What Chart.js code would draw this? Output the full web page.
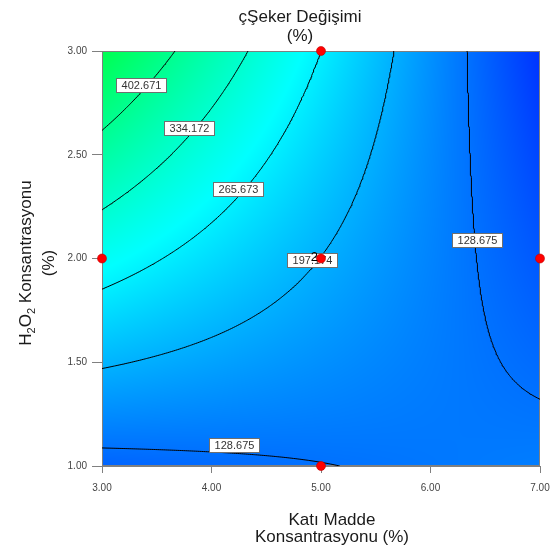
<!DOCTYPE html>
<html>
<head>
<meta charset="utf-8">
<script src="https://cdn.jsdelivr.net/npm/chart.js@4.4.1/dist/chart.umd.min.js"></script>
<style>
  html, body { margin: 0; padding: 0; background: #ffffff; }
  canvas { display: block; }
</style>
</head>
<body>
<canvas id="chart" width="553" height="551"></canvas>
<script>
// ---- Factor ranges and ticks (actual units) ----
const xRange = [3, 7];                 // Katı Madde Konsantrasyonu (%)
const yRange = [1, 3];                 // H2O2 Konsantrasyonu (%)
const xTicks = [3, 4, 5, 6, 7];
const yTicks = [1, 1.5, 2, 2.5, 3];

// ---- Design points (runs) and replicate counts ----
const designX = [3, 5, 5, 5, 7];
const designY = [2, 3, 2, 1, 2];
const designReps = [1, 1, 2, 1, 1];

// ---- Response equation in coded factors: Intercept, A, B, AB ----
const coefNames = ['Intercept', 'A', 'B', 'AB'];
const coefValues = [196.56, -95.58, 69.11, -109.93];

// ---- Contour levels of çŞeker Değişimi (%) ----
const contourLevels = [128.675, 197.174, 265.673, 334.172, 402.671];

// ---- Texts ----
const chartTitle = ['çŞeker Değişimi', '(%)'];
const xTitle = ['Katı Madde', 'Konsantrasyonu (%)'];
const yTitleParts = [['H', 0], ['2', 1], ['O', 0], ['2', 1], [' Konsantrasyonu', 0]];  // [text, subscript?]
const yTitleLine2 = '(%)';

// ---- Layout / style settings ----
const FONT = "'Liberation Sans', Arial, Helvetica, sans-serif";
const colorScaleLow = 6.2;             // value mapped to pure blue
const colorScaleHigh = 1108.7;         // value mapped to pure red
const labelAnchors = [                  // centre of each contour label box
  { level: 402.671, x: 3.359, y: 2.835 },
  { level: 334.172, x: 3.799, y: 2.629 },
  { level: 265.673, x: 4.242, y: 2.335 },
  { level: 197.174, x: 4.915, y: 1.993 },
  { level: 128.675, x: 6.422, y: 2.089 },
  { level: 128.675, x: 4.205, y: 1.103 }
];

// Predicted response at actual factor settings
function predict(x, y) {
  const A = (x - (xRange[0] + xRange[1]) / 2) / ((xRange[1] - xRange[0]) / 2);
  const B = (y - (yRange[0] + yRange[1]) / 2) / ((yRange[1] - yRange[0]) / 2);
  const terms = { 'Intercept': 1, 'A': A, 'B': B, 'AB': A * B };
  let v = 0;
  coefNames.forEach((n, i) => { v += coefValues[i] * terms[n]; });
  return v;
}

// Blue -> cyan -> green -> yellow -> red gradient
function colorFor(v) {
  let t = (v - colorScaleLow) / (colorScaleHigh - colorScaleLow);
  t = Math.max(0, Math.min(1, t));
  let r, g, b;
  if (t < 0.25) { r = 0; g = 255 * t / 0.25; b = 255; }
  else if (t < 0.5) { r = 0; g = 255; b = 255 * (1 - (t - 0.25) / 0.25); }
  else if (t < 0.75) { r = 255 * (t - 0.5) / 0.25; g = 255; b = 0; }
  else { r = 255; g = 255 * (1 - (t - 0.75) / 0.25); b = 0; }
  return [r, g, b];
}

// Marching squares over the factor space; returns polylines in data units
function traceContour(level) {
  const N = 220;
  const gx = i => xRange[0] + (xRange[1] - xRange[0]) * i / N;
  const gy = j => yRange[0] + (yRange[1] - yRange[0]) * j / N;
  const V = [];
  for (let j = 0; j <= N; j++) for (let i = 0; i <= N; i++) V[j * (N + 1) + i] = predict(gx(i), gy(j));
  const v = (i, j) => V[j * (N + 1) + i];
  const pointOf = key => {
    const t = key[0];
    const [i, j] = key.slice(1).split(',').map(Number);
    if (t === 'h') {
      const a = v(i, j), b = v(i + 1, j);
      return { x: gx(i + (level - a) / (b - a)), y: gy(j) };
    }
    const a = v(i, j), b = v(i, j + 1);
    return { x: gx(i), y: gy(j + (level - a) / (b - a)) };
  };
  const segs = [];
  for (let j = 0; j < N; j++) {
    for (let i = 0; i < N; i++) {
      const c = [v(i, j), v(i + 1, j), v(i + 1, j + 1), v(i, j + 1)];
      const above = c.map(q => q >= level);
      const edges = [
        ['h' + i + ',' + j, 0, 1],
        ['v' + (i + 1) + ',' + j, 1, 2],
        ['h' + i + ',' + (j + 1), 3, 2],
        ['v' + i + ',' + j, 0, 3]
      ];
      const hit = edges.filter(e => above[e[1]] !== above[e[2]]).map(e => e[0]);
      if (hit.length === 2) segs.push([hit[0], hit[1]]);
      else if (hit.length === 4) {
        const centre = (c[0] + c[1] + c[2] + c[3]) / 4;
        if ((centre >= level) === above[0]) { segs.push([hit[0], hit[1]]); segs.push([hit[2], hit[3]]); }
        else { segs.push([hit[0], hit[3]]); segs.push([hit[1], hit[2]]); }
      }
    }
  }
  const adj = new Map();
  segs.forEach((s, k) => s.forEach(e => { if (!adj.has(e)) adj.set(e, []); adj.get(e).push(k); }));
  const used = new Array(segs.length).fill(false);
  const lines = [];
  const walk = startKey => {
    const keys = [startKey];
    let cur = startKey;
    while (true) {
      const next = (adj.get(cur) || []).find(k => !used[k]);
      if (next === undefined) break;
      used[next] = true;
      const s = segs[next];
      cur = s[0] === cur ? s[1] : s[0];
      keys.push(cur);
    }
    return keys;
  };
  for (const [key, list] of adj) {
    if (list.length === 1 && !used[list[0]]) lines.push(walk(key).map(pointOf));
  }
  segs.forEach((s, k) => { if (!used[k]) lines.push(walk(s[0]).map(pointOf)); });
  return lines;
}

// ---- Datasets ----
const contourLines = [];
contourLevels.forEach(level => traceContour(level).forEach(pts => contourLines.push({ level, pts })));

const datasets = contourLines.map(c => ({
  label: 'contour ' + c.level,
  data: c.pts,
  showLine: true,
  borderColor: '#000000',
  borderWidth: 1,
  pointRadius: 0,
  tension: 0,
  fill: false,
  order: 2
}));
const designIndex = datasets.length;
datasets.push({
  label: 'Design Points',
  data: designX.map((x, i) => ({ x, y: designY[i] })),
  showLine: false,
  pointRadius: 4.5,
  pointBackgroundColor: '#ff0000',
  pointBorderColor: '#c00000',
  pointBorderWidth: 0.6,
  clip: false,
  order: 0
});

// ---- Plugins ----
const surfacePlugin = {
  id: 'surface',
  beforeDatasetsDraw(chart) {
    const { ctx, chartArea: a, scales } = chart;
    const w = Math.round(a.right - a.left), h = Math.round(a.bottom - a.top);
    const off = document.createElement('canvas');
    off.width = w; off.height = h;
    const octx = off.getContext('2d');
    const img = octx.createImageData(w, h);
    for (let py = 0; py < h; py++) {
      const yv = scales.y.getValueForPixel(a.top + py + 0.5);
      for (let px = 0; px < w; px++) {
        const xv = scales.x.getValueForPixel(a.left + px + 0.5);
        const [r, g, b] = colorFor(predict(xv, yv));
        const k = (py * w + px) * 4;
        img.data[k] = r; img.data[k + 1] = g; img.data[k + 2] = b; img.data[k + 3] = 255;
      }
    }
    octx.putImageData(img, 0, 0);
    ctx.save();
    ctx.drawImage(off, a.left, a.top);
    ctx.strokeStyle = '#7f7f7f';
    ctx.lineWidth = 1;
    ctx.strokeRect(a.left + 0.5, a.top + 0.5, w - 1, h - 1);
    ctx.restore();
  },
  beforeDatasetDraw(chart, args) {
    if (args.index !== designIndex) return;
    const { ctx, scales } = chart;
    ctx.save();
    ctx.font = '11px ' + FONT;
    ctx.textAlign = 'center';
    ctx.textBaseline = 'middle';
    labelAnchors.forEach(lab => {
      const cx = scales.x.getPixelForValue(lab.x), cy = scales.y.getPixelForValue(lab.y);
      const text = lab.level.toFixed(3);
      const tw = ctx.measureText(text).width;
      const bw = Math.round(tw + 10), bh = 14;
      const bx = Math.round(cx - bw / 2) + 0.5, by = Math.round(cy - bh / 2) + 0.5;
      ctx.fillStyle = '#ffffff';
      ctx.fillRect(bx, by, bw, bh);
      ctx.strokeStyle = '#6f6f6f';
      ctx.lineWidth = 1;
      ctx.strokeRect(bx, by, bw, bh);
      ctx.fillStyle = '#333333';
      ctx.fillText(text, bx + bw / 2, by + bh / 2 + 0.5);
    });
    ctx.restore();
  },
  afterDatasetDraw(chart, args) {
    if (args.index !== designIndex) return;
    const { ctx } = chart;
    const meta = chart.getDatasetMeta(designIndex);
    ctx.save();
    ctx.font = '13px ' + FONT;
    ctx.fillStyle = '#000000';
    ctx.textAlign = 'right';
    ctx.textBaseline = 'middle';
    meta.data.forEach((el, i) => {
      if (designReps[i] > 1) ctx.fillText(String(designReps[i]), el.x - 3, el.y - 1.5);
    });
    ctx.restore();
  },
  afterDraw(chart) {
    const { ctx } = chart;
    ctx.save();
    ctx.fillStyle = '#1a1a1a';
    ctx.textAlign = 'center';
    ctx.textBaseline = 'alphabetic';
    ctx.font = '17px ' + FONT;
    // chart title
    ctx.fillText(chartTitle[0], 300, 22);
    ctx.fillText(chartTitle[1], 300, 41);
    // x axis title
    ctx.fillText(xTitle[0], 332, 525);
    ctx.fillText(xTitle[1], 332, 542);
    // y axis title (rotated, with subscripts)
    ctx.translate(31, 263);
    ctx.rotate(-Math.PI / 2);
    const big = '17px ' + FONT, small = '11px ' + FONT;
    let total = 0;
    yTitleParts.forEach(([t, sub]) => { ctx.font = sub ? small : big; total += ctx.measureText(t).width; });
    let x = -total / 2;
    ctx.textAlign = 'left';
    yTitleParts.forEach(([t, sub]) => {
      ctx.font = sub ? small : big;
      ctx.fillText(t, x, sub ? 4 : 0);
      x += ctx.measureText(t).width;
    });
    ctx.font = big;
    ctx.textAlign = 'center';
    ctx.fillText(yTitleLine2, 0, 23);
    ctx.restore();
  }
};

Chart.defaults.font.family = FONT;

new Chart(document.getElementById('chart'), {
  type: 'scatter',
  data: { datasets },
  options: {
    responsive: false,
    animation: false,
    devicePixelRatio: 1,
    events: [],
    layout: { padding: { left: 0, right: 13, top: 51, bottom: 0 } },
    plugins: {
      legend: { display: false },
      tooltip: { enabled: false },
      title: { display: false }
    },
    scales: {
      x: {
        type: 'linear',
        min: xRange[0], max: xRange[1],
        afterBuildTicks: s => { s.ticks = xTicks.map(v => ({ value: v })); },
        afterFit: s => { s.height = 85; s.paddingLeft = 0; s.paddingRight = 0; },
        ticks: {
          autoSkip: false, maxRotation: 0, padding: 9,
          color: '#444444',
          font: { family: FONT, size: 10 },
          callback: v => Number(v).toFixed(2)
        },
        grid: { drawOnChartArea: false, drawTicks: true, tickLength: 7, color: '#808080' },
        border: { display: true, color: '#808080', width: 1 },
        title: { display: false }
      },
      y: {
        type: 'linear',
        min: yRange[0], max: yRange[1],
        afterBuildTicks: s => { s.ticks = yTicks.map(v => ({ value: v })); },
        afterFit: s => { s.width = 102; s.paddingTop = 0; s.paddingBottom = 0; },
        ticks: {
          autoSkip: false, padding: 5,
          color: '#444444',
          font: { family: FONT, size: 10 },
          callback: v => Number(v).toFixed(2)
        },
        grid: { drawOnChartArea: false, drawTicks: true, tickLength: 10, color: '#808080' },
        border: { display: true, color: '#808080', width: 1 },
        title: { display: false }
      }
    }
  },
  plugins: [surfacePlugin]
});
</script>
</body>
</html>
